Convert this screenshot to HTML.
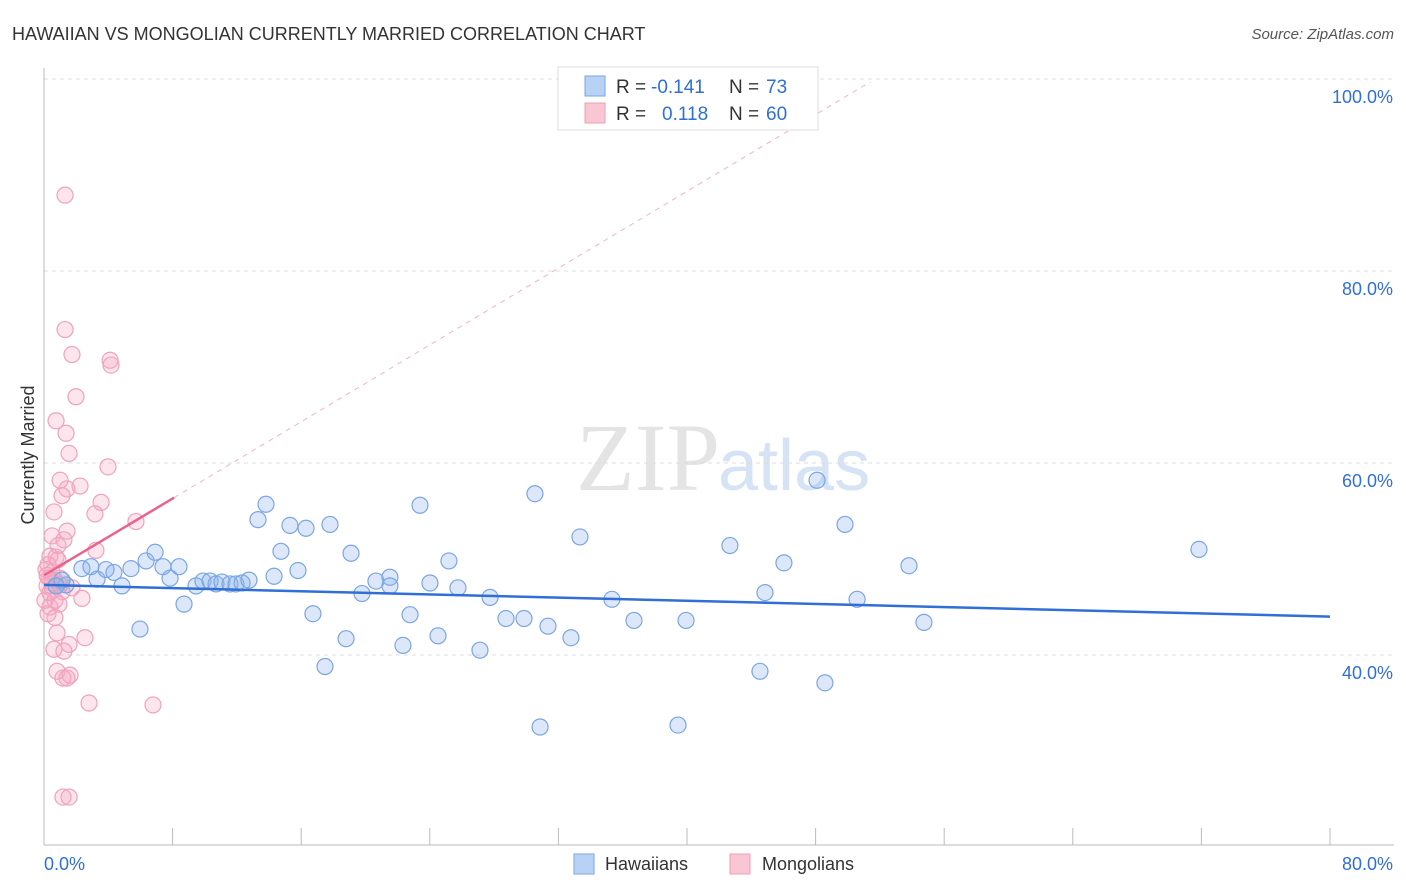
<!DOCTYPE html>
<html><head><meta charset="utf-8">
<style>
body{margin:0;background:#fff;font-family:"Liberation Sans",sans-serif;}
#wrap{position:relative;width:1406px;height:892px;overflow:hidden;}
</style></head>
<body>
<div id="wrap">
<svg id="svg" width="1406" height="892" xmlns="http://www.w3.org/2000/svg">
<text x="12" y="40" font-size="18" fill="#333">HAWAIIAN VS MONGOLIAN CURRENTLY MARRIED CORRELATION CHART</text>
<text x="1394" y="39" font-size="15" fill="#555" font-style="italic" text-anchor="end">Source: ZipAtlas.com</text>
<text x="720" y="490" font-size="96" fill="#e4e4e4" text-anchor="end" font-family="Liberation Serif,serif">ZIP</text>
<text x="718" y="490" font-size="72" fill="#d6e3f5">atlas</text>
<g id="grid"></g><g id="axes"></g><g id="trend"></g><g id="pts"></g>
<text transform="translate(34,455) rotate(-90)" font-size="18" fill="#333" text-anchor="middle">Currently Married</text>
<g>
<rect x="558" y="67" width="260" height="63" fill="#fff" stroke="#ddd"/>
<rect x="585" y="76" width="20" height="20" fill="#b8d2f5" stroke="#7aa6e6"/>
<rect x="585" y="103" width="20" height="20" fill="#f9c6d4" stroke="#ef9fb6"/>
<text x="616" y="93" font-size="19" fill="#333">R = </text><text x="651" y="93" font-size="19" fill="#2f6fd6">-0.141</text>
<text x="729" y="93" font-size="19" fill="#333">N = </text><text x="766" y="93" font-size="19" fill="#2f6fd6">73</text>
<text x="616" y="120" font-size="19" fill="#333">R = </text><text x="662" y="120" font-size="19" fill="#2f6fd6">0.118</text>
<text x="729" y="120" font-size="19" fill="#333">N = </text><text x="766" y="120" font-size="19" fill="#2f6fd6">60</text>
</g>
<g>
<rect x="574" y="854" width="20" height="20" fill="#b8d2f5" stroke="#7aa6e6"/>
<text x="605" y="870" font-size="18" fill="#333">Hawaiians</text>
<rect x="730" y="854" width="20" height="20" fill="#f9c6d4" stroke="#ef9fb6"/>
<text x="762" y="870" font-size="18" fill="#333">Mongolians</text>
</g>
</svg>
</div>
<script>
const blueX=[1.37,2.36,2.92,3.30,3.86,4.35,4.85,5.41,5.97,6.35,6.91,7.40,7.84,8.40,8.71,9.46,9.89,10.33,10.70,11.07,11.57,11.94,12.32,12.75,13.31,13.81,14.31,14.74,15.30,15.80,16.30,16.73,17.48,17.79,18.79,19.10,19.78,20.65,21.52,21.52,22.33,22.77,23.39,24.01,24.51,25.19,25.75,27.12,27.75,28.74,29.86,30.54,30.86,31.35,32.78,33.34,35.33,36.70,39.44,39.94,42.67,44.54,44.85,46.03,48.09,48.58,49.83,50.58,53.81,54.74,71.85,1.12,0.75];
const blueY=[47.3,49.0,49.2,47.9,48.9,48.6,47.2,49.0,42.7,49.8,50.7,49.2,48.0,49.2,45.3,47.2,47.7,47.7,47.4,47.6,47.4,47.4,47.5,47.8,54.1,55.7,48.2,50.8,53.5,48.8,53.2,44.3,38.8,53.6,41.7,50.6,46.4,47.7,48.1,47.2,41.0,44.2,55.6,47.5,42.0,49.8,47.0,40.5,46.0,43.8,43.8,56.8,32.5,43.0,41.8,52.3,45.8,43.6,32.7,43.6,51.4,38.3,46.5,49.6,58.2,37.1,53.6,45.8,49.3,43.4,51.0,47.8,47.2];
const pinkX=[1.31,1.31,1.74,4.11,4.17,1.99,0.75,1.37,1.56,3.98,1.00,1.12,1.43,2.24,3.55,3.17,0.62,1.43,5.72,0.50,0.87,3.23,0.37,0.75,0.25,0.50,0.31,0.68,1.00,0.19,0.56,1.12,1.74,2.36,0.93,0.37,0.25,0.68,0.81,2.55,1.56,0.62,1.24,0.81,1.62,1.18,1.43,2.80,6.78,1.18,1.56,0.50,0.06,1.00,0.37,0.12,0.87,1.24,0.68,0.19];
const pinkY=[87.9,73.9,71.3,70.7,70.2,66.9,64.4,63.1,61.0,59.6,58.2,56.6,57.3,57.6,55.9,54.7,54.9,52.9,53.9,52.4,51.4,50.9,50.3,50.2,49.4,48.6,48.0,47.8,48.0,47.2,46.8,46.6,47.0,45.9,45.3,45.0,44.3,43.9,42.3,41.8,41.1,40.6,40.4,38.3,37.9,37.6,37.6,35.0,34.8,25.2,25.2,47.5,45.7,47.3,46.5,48.9,49.9,52.0,45.7,48.3];
const yTicks=[100,80,60,40];
const yTickLabels=["100.0%","80.0%","60.0%","40.0%"];
const xTicks=[0,8,16,24,32,40,48,56,64,72,80];
const blueTrend=[[0,47.3],[80,44.0]];
const pinkTrend=[[0,48.3],[8.1,56.4]];
const pinkDash=[[8.1,56.4],[51.4,99.7]];
const NS="http://www.w3.org/2000/svg";
const sx=v=>44+v*16.075, sy=v=>79+(100-v)*9.6;
function mk(tag,attrs,parent){const e=document.createElementNS(NS,tag);for(const k in attrs)e.setAttribute(k,attrs[k]);document.getElementById(parent).appendChild(e);return e;}
yTicks.forEach((t,i)=>{
 const l=mk('line',{x1:44,x2:1394,y1:sy(t),y2:sy(t),stroke:'#ddd','stroke-dasharray':'4,4'},'grid');
 
 
 const tx=mk('text',{x:1393,y:sy(t)+24,'font-size':18,fill:'#2f6fd6','text-anchor':'end'},'grid');
 tx.textContent=yTickLabels[i];
 
 
});
const ax=mk('line',{x1:44,x2:44,y1:68,y2:845,stroke:'#bbb'},'axes');


const bx=mk('line',{x1:44,x2:1394,y1:845,y2:845,stroke:'#bbb'},'axes');


xTicks.forEach(t=>{const l=mk('line',{x1:sx(t),x2:sx(t),y1:828,y2:845,stroke:'#bbb'},'axes');
 
 });
const xl0=mk('text',{x:44,y:870,'font-size':18,fill:'#2f6fd6'},'axes');xl0.textContent='0.0%';


const xl1=mk('text',{x:1393,y:870,'font-size':18,fill:'#2f6fd6','text-anchor':'end'},'axes');xl1.textContent='80.0%';


const pd=mk('line',{x1:sx(pinkDash[0][0]),y1:sy(pinkDash[0][1]),x2:sx(pinkDash[1][0]),y2:sy(pinkDash[1][1]),stroke:'#eeb5c5','stroke-dasharray':'5,5','stroke-width':1},'trend');


pinkX.forEach((x,i)=>{const c=mk('circle',{cx:sx(x),cy:sy(pinkY[i]),r:8,fill:'rgba(246,170,195,0.3)',stroke:'#f0a2bb','stroke-width':1.2},'pts');
 
 });
blueX.forEach((x,i)=>{const c=mk('circle',{cx:sx(x),cy:sy(blueY[i]),r:8,fill:'rgba(140,180,235,0.3)',stroke:'#7ba5e3','stroke-width':1.2},'pts');
 
 });
const bt=mk('line',{x1:sx(blueTrend[0][0]),y1:sy(blueTrend[0][1]),x2:sx(blueTrend[1][0]),y2:sy(blueTrend[1][1]),stroke:'#2f6fd6','stroke-width':2.5},'pts');


const pt=mk('line',{x1:sx(pinkTrend[0][0]),y1:sy(pinkTrend[0][1]),x2:sx(pinkTrend[1][0]),y2:sy(pinkTrend[1][1]),stroke:'#e8638f','stroke-width':2.5},'pts');


</script>
</body></html>
